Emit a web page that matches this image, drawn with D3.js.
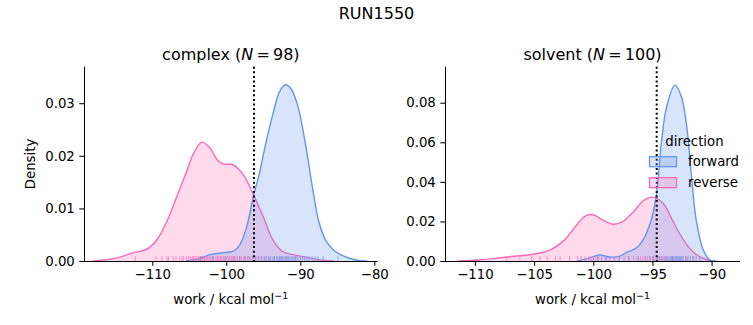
<!DOCTYPE html>
<html><head><meta charset="utf-8">
<script src="https://cdn.jsdelivr.net/npm/d3@7"></script>
<style>body{margin:0;background:#fff}svg{display:block}text{font-family:"DejaVu Sans",sans-serif;fill:#000}</style>
</head><body><svg id="c" width="753" height="325"></svg>
<script>
// ---- data ----
const complexReverseX = [-118, -116.5, -114.5, -112.5, -110.8, -109.4, -108.0, -106.7, -105.5, -104.4, -103.3, -102.2, -101.2, -100.3, -99.3, -98.4, -97.5, -96.4, -95.0, -93.7, -92.4, -91.0, -89.1, -87.3, -85.5];
const complexReverseD = [0, 0.0002, 0.0007, 0.0016, 0.0022, 0.004, 0.0076, 0.0122, 0.0165, 0.0205, 0.0226, 0.0215, 0.0192, 0.0184, 0.0184, 0.0176, 0.0160, 0.0128, 0.0084, 0.0040, 0.0018, 0.0012, 0.0007, 0.0002, 0];
const complexForwardX = [-105.5, -104.0, -102.2, -100.3, -99.0, -98.2, -97.3, -96.3, -95.5, -94.6, -93.6, -92.8, -92.0, -91.2, -90.3, -89.3, -88.3, -87.5, -86.6, -85.6, -84.3, -82.5, -81];
const complexForwardD = [0, 0.0003, 0.0012, 0.0016, 0.0019, 0.003, 0.0062, 0.0125, 0.0168, 0.0228, 0.0285, 0.0322, 0.0335, 0.0326, 0.0293, 0.0222, 0.0135, 0.0075, 0.0040, 0.0022, 0.0010, 0.0002, 0];
const solventReverseX = [-111.5, -109.7, -107.3, -105.6, -104.6, -103.5, -102.4, -101.3, -100.6, -100.0, -99.2, -98.3, -97.6, -96.6, -95.8, -95.0, -94.1, -93.3, -92.5, -91.6, -90.6, -89.8];
const solventReverseD = [0, 0.0005, 0.002, 0.003, 0.0039, 0.006, 0.0108, 0.019, 0.0229, 0.0234, 0.0207, 0.0186, 0.0196, 0.0249, 0.0303, 0.0323, 0.0292, 0.0205, 0.0118, 0.0048, 0.001, 0];
const solventForwardX = [-101.4, -100.5, -100.0, -99.45, -98.6, -97.75, -97.2, -96.4, -95.8, -95.1, -94.65, -94.25, -93.8, -93.1, -92.55, -92.1, -91.7, -91.3, -90.7, -90.15, -89.6];
const solventForwardD = [0, 0.0012, 0.0022, 0.003, 0.002, 0.0025, 0.0043, 0.0064, 0.0106, 0.0207, 0.0342, 0.0595, 0.078, 0.0889, 0.083, 0.0679, 0.0426, 0.0207, 0.0056, 0.0005, 0];

const complexReverseRug = [-112.3, -109.5, -108.7, -108.0, -107.8, -107.2, -106.8, -106.3, -106.0, -105.8, -105.4, -105.1, -104.9, -104.6, -104.4, -104.2, -104.0, -103.8, -103.7, -103.5, -103.3, -103.2, -103.0, -102.9, -102.7, -102.5, -102.3, -102.1, -101.9, -101.7, -101.4, -101.2, -101.0, -100.8, -100.6, -100.4, -100.1, -99.9, -99.7, -99.5, -99.3, -99.1, -98.9, -98.7, -98.5, -98.2, -98.0, -97.7, -97.4, -97.1, -96.8, -96.5, -96.1, -95.7, -95.3, -94.8, -94.2, -93.5, -92.6, -91.8, -90.6];
const complexForwardRug = [-103.5, -101.8, -100.2, -99.0, -98.2, -97.5, -96.9, -96.4, -96.0, -95.6, -95.2, -94.9, -94.6, -94.3, -94.0, -93.7, -93.5, -93.2, -93.0, -92.8, -92.6, -92.4, -92.2, -92.0, -91.8, -91.6, -91.4, -91.2, -91.0, -90.8, -90.6, -90.3, -90.0, -89.7, -89.4, -89.1, -88.8, -88.4, -88.0, -87.6, -86.9, -84.9];
const solventReverseRug = [-107.3, -106.2, -105.2, -104.5, -103.9, -103.2, -102.8, -102.0, -101.3, -101.0, -100.7, -100.4, -100.2, -100.0, -99.8, -99.6, -99.3, -99.0, -98.6, -98.2, -97.8, -97.4, -97.0, -96.6, -96.3, -96.0, -95.8, -95.6, -95.4, -95.2, -95.0, -94.9, -94.7, -94.5, -94.3, -94.1, -93.9, -93.6, -93.3, -93.0, -92.6, -92.1, -91.5];
const solventForwardRug = [-99.6, -98.9, -97.8, -97.0, -96.2, -95.6, -95.2, -94.9, -94.6, -94.4, -94.2, -94.0, -93.8, -93.7, -93.5, -93.4, -93.3, -93.2, -93.1, -93.0, -92.9, -92.8, -92.7, -92.6, -92.5, -92.4, -92.2, -92.0, -91.8, -91.6, -91.3, -91.0];

const complexXTicks = [-110, -100, -90, -80];
const complexYTicks = [0, 0.01, 0.02, 0.03];
const solventXTicks = [-110, -105, -100, -95, -90];
const solventYTicks = [0, 0.02, 0.04, 0.06, 0.08];
const complexMean = -96.26;
const solventMean = -94.64;
const directions = ["forward", "reverse"];
const colors = {forward: "#6495ed", reverse: "#ff69b4"};

// ---- drawing ----
const svg = d3.select("#c");
const axTop = 66.7, axBottom = 261;
svg.append("text").attr("x", 376.5).attr("y", 19).attr("text-anchor", "middle").style("font-size", "16px").text("RUN1550");

function panel(cfg) {
  const x = d3.scaleLinear().domain(cfg.xdom).range(cfg.xr);
  const y = d3.scaleLinear().domain(cfg.ydom).range([axBottom, axTop]);
  const g = svg.append("g");
  const series = [
    {dir: "reverse", xs: cfg.revX, ds: cfg.revD, rug: cfg.revRug},
    {dir: "forward", xs: cfg.fwdX, ds: cfg.fwdD, rug: cfg.fwdRug}
  ];
  const curve = d3.curveCatmullRom.alpha(0.5);
  series.forEach(s => {
    const pts = s.xs.map((v, i) => [v, s.ds[i]]);
    const area = d3.area().x(d => x(d[0])).y0(y(0)).y1(d => y(d[1])).curve(curve);
    const line = d3.line().x(d => x(d[0])).y(d => y(d[1])).curve(curve);
    g.append("path").attr("d", area(pts)).attr("fill", colors[s.dir]).attr("fill-opacity", 0.25);
    g.append("path").attr("d", line(pts)).attr("fill", "none").attr("stroke", colors[s.dir]).attr("stroke-width", 1.4);
  });
  series.forEach(s => {
    g.selectAll(null).data(s.rug).enter().append("line")
      .attr("x1", d => x(d)).attr("x2", d => x(d))
      .attr("y1", axBottom).attr("y2", axBottom - 0.025 * (axBottom - axTop))
      .attr("stroke", colors[s.dir]).attr("stroke-opacity", 0.7).attr("stroke-width", 1);
  });
  g.append("line").attr("x1", x(cfg.mean)).attr("x2", x(cfg.mean)).attr("y1", axTop).attr("y2", axBottom)
    .attr("stroke", "#000").attr("stroke-width", 2).attr("stroke-dasharray", "2,2.6");
  const fmtX = d => d3.format("d")(d).replace("-", "\u2212");
  const xa = g.append("g").attr("transform", `translate(0,${axBottom})`)
    .call(d3.axisBottom(x).tickValues(cfg.xt).tickFormat(fmtX).tickSize(4.7).tickPadding(3.5));
  const ya = g.append("g").attr("transform", `translate(${cfg.xr[0]},0)`)
    .call(d3.axisLeft(y).tickValues(cfg.yt).tickFormat(d3.format(".2f")).tickSize(4.7).tickPadding(4.5));
  [xa, ya].forEach(a => {
    a.selectAll("text").style("font-size", "13.3px").style("font-family", '"DejaVu Sans",sans-serif').attr("fill", "#000");
    a.selectAll("line").attr("stroke", "#000").attr("stroke-width", 1.05);
    a.select(".domain").attr("stroke", "#000").attr("stroke-width", 1.05);
  });
  ya.select(".domain").attr("d", `M0.5,${axBottom}V${axTop}`);
  xa.select(".domain").attr("d", `M${cfg.xr[0]},0.5H${cfg.xr[1]}`);
  const cx = (cfg.xr[0] + cfg.xr[1]) / 2;
  const t = svg.append("text").attr("x", cx).attr("y", 59.5).attr("text-anchor", "middle").style("font-size", "16px");
  t.append("tspan").text(cfg.name + " (");
  t.append("tspan").style("font-style", "italic").text("N");
  t.append("tspan").text("\u2009=\u2009" + cfg.n + ")");
  const xl = svg.append("text").attr("x", cx).attr("y", 304).attr("text-anchor", "middle").style("font-size", "13.3px");
  xl.append("tspan").text("work / kcal mol");
  xl.append("tspan").attr("dy", -5).style("font-size", "9.5px").text("\u22121");
  return {x, y};
}

panel({name: "complex", n: 98, xdom: [-119.23, -79.54], xr: [84, 377.7], ydom: [0, 0.03694],
  revX: complexReverseX, revD: complexReverseD, fwdX: complexForwardX, fwdD: complexForwardD,
  revRug: complexReverseRug, fwdRug: complexForwardRug, mean: complexMean, xt: complexXTicks, yt: complexYTicks});
panel({name: "solvent", n: 100, xdom: [-112.53, -87.6], xr: [445, 740], ydom: [0, 0.0982],
  revX: solventReverseX, revD: solventReverseD, fwdX: solventForwardX, fwdD: solventForwardD,
  revRug: solventReverseRug, fwdRug: solventForwardRug, mean: solventMean, xt: solventXTicks, yt: solventYTicks});

svg.append("text").attr("transform", "translate(35,164) rotate(-90)").attr("text-anchor", "middle").style("font-size", "13.3px").text("Density");

svg.append("text").attr("x", 694.5).attr("y", 146).attr("text-anchor", "middle").style("font-size", "13.3px").text("direction");
directions.forEach((d, i) => {
  const yy = 156.7 + i * 21;
  svg.append("rect").attr("x", 649.5).attr("y", yy).attr("width", 27).attr("height", 10)
    .attr("fill", colors[d]).attr("fill-opacity", 0.25).attr("stroke", colors[d]).attr("stroke-width", 1.3);
  svg.append("text").attr("x", 688).attr("y", yy + 9.5).style("font-size", "13.3px").text(d);
});
</script></body></html>
